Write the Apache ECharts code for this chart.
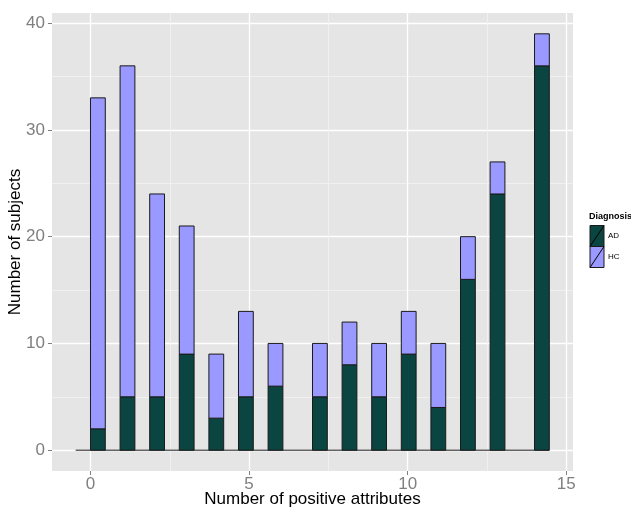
<!DOCTYPE html>
<html>
<head>
<meta charset="utf-8">
<script src="https://cdn.jsdelivr.net/npm/echarts@6/dist/echarts.min.js"></script>
<style>
html,body{margin:0;padding:0;background:#fff;}
#chart{width:631px;height:510px;}
</style>
</head>
<body>
<div id="chart"></div>
<script>
// Data
var attributes = [0, 1, 2, 3, 4, 5, 6, 7, 8, 9, 10, 11, 12, 13, 14];
var adCounts   = [2, 5, 5, 9, 3, 5, 6, 5, 8, 5, 9, 4, 16, 24, 36];
var hcCounts   = [31, 31, 19, 12, 6, 8, 4, 5, 4, 5, 4, 6, 4, 3, 3];
var xTicks = [0, 5, 10, 15];
var yTicks = [0, 10, 20, 30, 40];
var xMinor = [2.5, 7.5, 12.5];
var yMinor = [5, 15, 25, 35];
var seriesNames = ['AD', 'HC'];
var seriesColors = ['#0b4541', '#9999ff'];

// histogram bin width (range / 30, bins left-closed starting at min)
var BW = (Math.max.apply(null, attributes) - Math.min.apply(null, attributes)) / 30;
var xLo = Math.min.apply(null, attributes) - BW;
var xHi = Math.max.apply(null, attributes) + BW;
var xPad = (xHi - xLo) * 0.05;
var yTop = 0;
for (var i = 0; i < attributes.length; i++) yTop = Math.max(yTop, adCounts[i] + hcCounts[i]);
var yPad = yTop * 0.05;

var adData = attributes.map(function (x, i) { return [x, 0, adCounts[i]]; });
var hcData = attributes.map(function (x, i) { return [x, adCounts[i], adCounts[i] + hcCounts[i]]; });

function renderBin(params, api) {
  var x = api.value(0), lo = api.value(1), hi = api.value(2);
  var b = Math.floor(x / BW + 1e-9) * BW;
  var p0 = api.coord([b, lo]);
  var p1 = api.coord([b + BW, hi]);
  return {
    type: 'rect',
    shape: { x: p0[0], y: p1[1], width: p1[0] - p0[0], height: p0[1] - p1[1] },
    style: { fill: api.visual('color'), stroke: '#1a1a1a', lineWidth: 1 }
  };
}

var FONT = '"Liberation Sans", Arial, sans-serif';
var chart = echarts.init(document.getElementById('chart'), null, { renderer: 'canvas' });
chart.setOption({
  animation: false,
  backgroundColor: '#ffffff',
  grid: { left: 52, top: 13, right: 58, bottom: 39, show: true, backgroundColor: '#e5e5e5', borderWidth: 0,
          containLabel: false, outerBoundsMode: 'none' },
  xAxis: [{
    type: 'value', min: xLo - xPad, max: xHi + xPad,
    name: 'Number of positive attributes', nameLocation: 'middle', nameGap: 20, nameMoveOverlap: false,
    nameTextStyle: { color: '#000', fontSize: 17, fontFamily: FONT },
    axisLine: { show: false, onZero: false },
    axisTick: { show: true, customValues: xTicks, length: 4, lineStyle: { color: '#7f7f7f', width: 1 } },
    axisLabel: { customValues: xTicks, color: '#7f7f7f', fontSize: 17, fontFamily: FONT, margin: 5 },
    splitLine: { show: true, lineStyle: { color: '#ffffff', width: 1.3 } }
  }, {
    type: 'value', min: xLo - xPad, max: xHi + xPad, position: 'bottom',
    axisLine: { show: false, onZero: false },
    axisTick: { show: false, customValues: xMinor },
    axisLabel: { show: false, customValues: xMinor },
    splitLine: { show: true, lineStyle: { color: '#f2f2f2', width: 0.8 } }
  }],
  yAxis: [{
    type: 'value', min: -yPad, max: yTop + yPad,
    name: 'Number of subjects', nameLocation: 'middle', nameGap: 28, nameMoveOverlap: false,
    nameTextStyle: { color: '#000', fontSize: 17, fontFamily: FONT },
    axisLine: { show: false, onZero: false },
    axisTick: { show: true, customValues: yTicks, length: 4, lineStyle: { color: '#7f7f7f', width: 1 } },
    axisLabel: { customValues: yTicks, color: '#7f7f7f', fontSize: 17, fontFamily: FONT, margin: 7 },
    splitLine: { show: true, lineStyle: { color: '#ffffff', width: 1.3 } }
  }, {
    type: 'value', min: -yPad, max: yTop + yPad, position: 'left',
    axisLine: { show: false, onZero: false },
    axisTick: { show: false, customValues: yMinor },
    axisLabel: { show: false, customValues: yMinor },
    splitLine: { show: true, lineStyle: { color: '#f2f2f2', width: 0.8 } }
  }],
  series: [{
    name: 'empty', type: 'line', data: [[xLo, 0], [xHi, 0]], symbol: 'none',
    lineStyle: { color: '#1a1a1a', width: 1 }, z: 2, silent: true
  }, {
    name: seriesNames[0], type: 'custom', renderItem: renderBin, data: adData,
    itemStyle: { color: seriesColors[0] }, encode: { x: 0, y: [1, 2] }, z: 3
  }, {
    name: seriesNames[1], type: 'custom', renderItem: renderBin, data: hcData,
    itemStyle: { color: seriesColors[1] }, encode: { x: 0, y: [1, 2] }, z: 3
  }],
  graphic: [
    { type: 'text', left: 589, top: 212, style: { text: 'Diagnosis', font: 'bold 9px ' + FONT, fill: '#000' } },
    { type: 'rect', shape: { x: 590, y: 225.5, width: 14, height: 21 }, style: { fill: seriesColors[0], stroke: '#1a1a1a', lineWidth: 1 } },
    { type: 'line', shape: { x1: 590, y1: 246.5, x2: 604, y2: 225.5 }, style: { stroke: '#000', lineWidth: 1 } },
    { type: 'rect', shape: { x: 590, y: 246.5, width: 14, height: 21 }, style: { fill: seriesColors[1], stroke: '#1a1a1a', lineWidth: 1 } },
    { type: 'line', shape: { x1: 590, y1: 267.5, x2: 604, y2: 246.5 }, style: { stroke: '#000', lineWidth: 1 } },
    { type: 'text', x: 608, y: 236, style: { text: seriesNames[0], font: '8px ' + FONT, fill: '#000', verticalAlign: 'middle' } },
    { type: 'text', x: 608, y: 257, style: { text: seriesNames[1], font: '8px ' + FONT, fill: '#000', verticalAlign: 'middle' } }
  ]
});
</script>
</body>
</html>
